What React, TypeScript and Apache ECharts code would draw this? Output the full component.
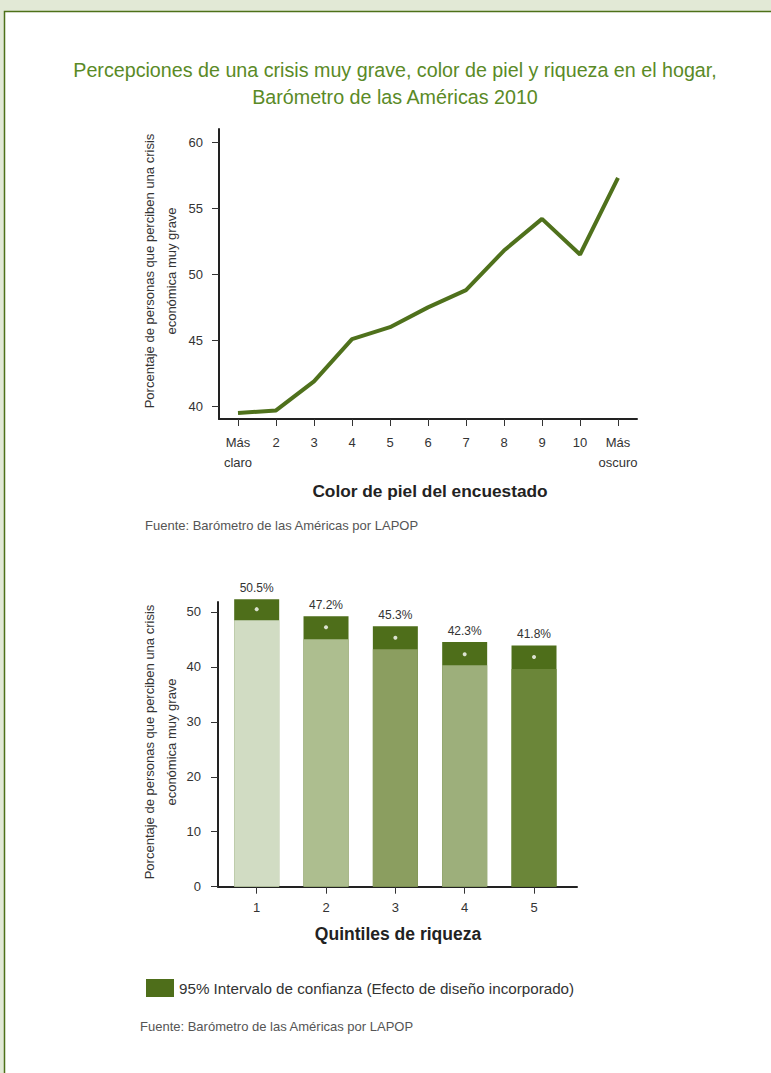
import React, { useEffect, useRef } from "react";
import * as echarts from "echarts";

const FONT = "'Liberation Sans', Arial, sans-serif";

// Line chart data
const skinCategories = ["Más\nclaro", "2", "3", "4", "5", "6", "7", "8", "9", "10", "Más\noscuro"];
const skinValues = [39.5, 39.7, 41.9, 45.1, 46.0, 47.5, 48.8, 51.8, 54.2, 51.5, 57.3];
const lineYTicks = [40, 45, 50, 55, 60];

// Bar chart data
const quintiles = ["1", "2", "3", "4", "5"];
const quintileMeans = [50.5, 47.2, 45.3, 42.3, 41.8];
const ciLow = [48.5, 45.0, 43.2, 40.3, 39.6];
const ciHigh = [52.3, 49.2, 47.4, 44.5, 43.9];
const barColors = ["#d1dcc3", "#adbe8f", "#8b9e60", "#9daf7b", "#6b8639"];
const barYTicks = [0, 10, 20, 30, 40, 50];

const CI_NAME = "95% Intervalo de confianza (Efecto de diseño incorporado)";

export default function App() {
  const ref = useRef<HTMLDivElement>(null);
  useEffect(() => {
    document.body.style.margin = "0";
    const chart = echarts.init(ref.current!, null, { renderer: "svg" });
    const axisLine = { show: true, lineStyle: { color: "#222", width: 2 } };
    const axisTick = { show: true, length: 7, lineStyle: { color: "#333", width: 1 } };
    const labelStyle = { color: "#333333", fontSize: 13, fontFamily: FONT };
    const yName = "Porcentaje de personas que perciben una crisis\neconómica muy grave";
    const option: any = {
      animation: false,
      backgroundColor: "#e2e9d6",
      textStyle: { fontFamily: FONT },
      graphic: [
        {
          type: "rect",
          z: -10,
          shape: { x: 4.5, y: 11.5, width: 800, height: 1100 },
          style: { fill: "#ffffff", stroke: "#4e7119", lineWidth: 1.5 },
        },
        {
          type: "text",
          x: 395,
          y: 70,
          style: {
            text: "Percepciones de una crisis muy grave, color de piel y riqueza en el hogar,",
            fill: "#5a8a26",
            fontSize: 19.7,
            fontFamily: FONT,
            textAlign: "center",
            textVerticalAlign: "middle",
          },
        },
        {
          type: "text",
          x: 395,
          y: 97,
          style: {
            text: "Barómetro de las Américas 2010",
            fill: "#5a8a26",
            fontSize: 19.7,
            fontFamily: FONT,
            textAlign: "center",
            textVerticalAlign: "middle",
          },
        },
        {
          type: "text",
          x: 160,
          y: 271,
          rotation: Math.PI / 2,
          style: {
            text: yName,
            fill: "#333",
            fontSize: 13,
            lineHeight: 22,
            fontFamily: FONT,
            textAlign: "center",
            textVerticalAlign: "middle",
          },
        },
        {
          type: "text",
          x: 430,
          y: 491,
          style: {
            text: "Color de piel del encuestado",
            fill: "#222",
            fontSize: 17.3,
            fontWeight: "bold",
            fontFamily: FONT,
            textAlign: "center",
            textVerticalAlign: "middle",
          },
        },
        {
          type: "text",
          x: 145,
          y: 525,
          style: {
            text: "Fuente: Barómetro de las Américas por LAPOP",
            fill: "#555",
            fontSize: 13,
            fontFamily: FONT,
            textVerticalAlign: "middle",
          },
        },
        {
          type: "text",
          x: 160,
          y: 742,
          rotation: Math.PI / 2,
          style: {
            text: yName,
            fill: "#333",
            fontSize: 13,
            lineHeight: 22,
            fontFamily: FONT,
            textAlign: "center",
            textVerticalAlign: "middle",
          },
        },
        {
          type: "text",
          x: 398,
          y: 934,
          style: {
            text: "Quintiles de riqueza",
            fill: "#222",
            fontSize: 17.5,
            fontWeight: "bold",
            fontFamily: FONT,
            textAlign: "center",
            textVerticalAlign: "middle",
          },
        },
        {
          type: "text",
          x: 140,
          y: 1026,
          style: {
            text: "Fuente: Barómetro de las Américas por LAPOP",
            fill: "#555",
            fontSize: 13,
            fontFamily: FONT,
            textVerticalAlign: "middle",
          },
        },
      ],
      legend: {
        data: [CI_NAME],
        left: 141,
        top: 974,
        icon: "rect",
        itemWidth: 28,
        itemHeight: 18,
        itemGap: 10,
        selectedMode: false,
        textStyle: { color: "#333", fontSize: 15.2, fontFamily: FONT },
      },
      grid: [
        { left: 219, top: 129, width: 418, height: 290 },
        { left: 218, top: 602, width: 359, height: 284.7 },
      ],
      xAxis: [
        {
          gridIndex: 0,
          type: "category",
          data: skinCategories,
          boundaryGap: true,
          axisLine,
          axisTick: { ...axisTick, alignWithLabel: true },
          axisLabel: { ...labelStyle, margin: 13, lineHeight: 20, interval: 0 },
          splitLine: { show: false },
        },
        {
          gridIndex: 1,
          type: "value",
          min: 0.442,
          max: 5.62,
          axisLine,
          axisTick: { ...axisTick, customValues: [1, 2, 3, 4, 5] },
          axisLabel: {
            ...labelStyle,
            margin: 14,
            customValues: [1, 2, 3, 4, 5],
            formatter: (v: number) => quintiles[Math.round(v) - 1] ?? "",
          },
          splitLine: { show: false },
        },
      ],
      yAxis: [
        {
          gridIndex: 0,
          type: "value",
          min: 39.05,
          max: 61,
          axisLine,
          axisTick: { ...axisTick, customValues: lineYTicks },
          axisLabel: { ...labelStyle, margin: 16, customValues: lineYTicks },
          splitLine: { show: false },
        },
        {
          gridIndex: 1,
          type: "value",
          min: 0,
          max: 51.8,
          axisLine,
          axisTick: { ...axisTick, customValues: barYTicks },
          axisLabel: { ...labelStyle, margin: 17, customValues: barYTicks },
          splitLine: { show: false },
        },
      ],
      series: [
        {
          type: "line",
          xAxisIndex: 0,
          yAxisIndex: 0,
          data: skinValues,
          symbol: "none",
          lineStyle: { color: "#4f711c", width: 4 },
          itemStyle: { color: "#4f711c" },
        },
        {
          name: CI_NAME,
          type: "bar",
          xAxisIndex: 1,
          yAxisIndex: 1,
          barWidth: 45,
          barGap: "-100%",
          clip: false,
          data: ciHigh.map((v, i) => [i + 1, v]),
          itemStyle: { color: "#4e6e1a" },
          label: {
            show: true,
            position: "top",
            distance: 5,
            color: "#333",
            fontSize: 12,
            fontFamily: FONT,
            formatter: (p: any) => quintileMeans[p.dataIndex].toFixed(1) + "%",
          },
        },
        {
          name: "base",
          type: "bar",
          xAxisIndex: 1,
          yAxisIndex: 1,
          barWidth: 45,
          barGap: "-100%",
          clip: false,
          data: ciLow.map((v, i) => ({ value: [i + 1, v], itemStyle: { color: barColors[i] } })),
        },
        {
          name: "media",
          type: "scatter",
          xAxisIndex: 1,
          yAxisIndex: 1,
          symbol: "circle",
          symbolSize: 4,
          z: 5,
          data: quintileMeans.map((v, i) => [i + 1, v]),
          itemStyle: { color: "#ffffff" },
        },
      ],
    };
    chart.setOption(option);
    return () => chart.dispose();
  }, []);
  return (
    <div
      ref={ref}
      style={{ position: "absolute", left: 0, top: 0, width: 771, height: 1073 }}
    />
  );
}
